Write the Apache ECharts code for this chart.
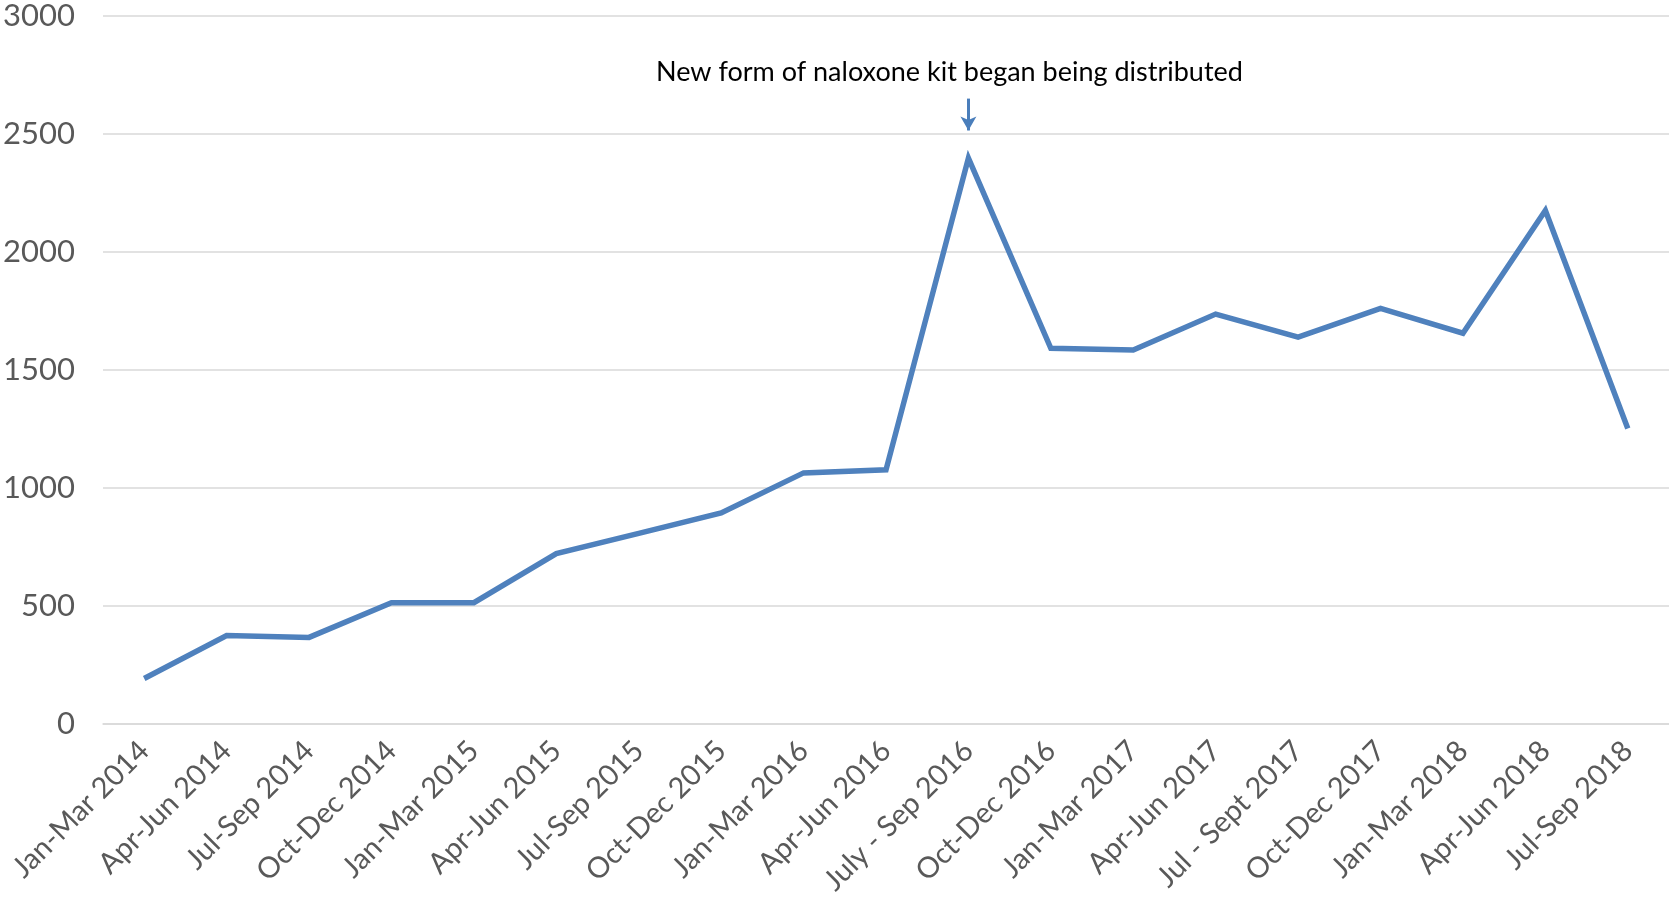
<!DOCTYPE html>
<html>
<head>
<meta charset="utf-8">
<script src="https://cdn.jsdelivr.net/npm/echarts@6/dist/echarts.min.js"></script>
<style>
  html, body { margin: 0; padding: 0; background: #fff; }
  #chart { width: 1669px; height: 910px; }
</style>
</head>
<body>
<div id="chart"></div>
<script>
// quarters on the x axis
const categories = [
  'Jan-Mar 2014', 'Apr-Jun 2014', 'Jul-Sep 2014', 'Oct-Dec 2014',
  'Jan-Mar 2015', 'Apr-Jun 2015', 'Jul-Sep 2015', 'Oct-Dec 2015',
  'Jan-Mar 2016', 'Apr-Jun 2016', 'July - Sep 2016', 'Oct-Dec 2016',
  'Jan-Mar 2017', 'Apr-Jun 2017', 'Jul - Sept 2017', 'Oct-Dec 2017',
  'Jan-Mar 2018', 'Apr-Jun 2018', 'Jul-Sep 2018'
];
// values
const values = [
  193, 375, 367, 514, 514, 722, 808, 894, 1064, 1077,
  2398, 1592, 1585, 1737, 1639, 1761, 1656, 2176, 1252
];
const yTicks = { min: 0, max: 3000, interval: 500 };
const noteText = 'New form of naloxone kit began being distributed';
const noteIndex = 10; // July - Sep 2016

const myChart = echarts.init(document.getElementById('chart'));
const font = 'Lato, "Open Sans", sans-serif';

myChart.setOption({
  animation: false,
  grid: {
    left: 103,
    right: 0,
    top: 16,
    bottom: 186,
    containLabel: false
  },
  xAxis: {
    type: 'category',
    data: categories,
    boundaryGap: true,
    axisLine: { lineStyle: { color: '#d9d9d9', width: 1.5 } },
    axisTick: { show: false },
    axisLabel: {
      rotate: 45,
      interval: 0,
      margin: 22,
      color: '#595959',
      fontFamily: font,
      fontSize: 29
    }
  },
  yAxis: {
    type: 'value',
    min: yTicks.min,
    max: yTicks.max,
    interval: yTicks.interval,
    axisLine: { show: false },
    axisTick: { show: false },
    axisLabel: {
      margin: 28,
      color: '#595959',
      fontFamily: font,
      fontSize: 31,
      formatter: (v) => String(v)
    },
    splitLine: { lineStyle: { color: '#d9d9d9', width: 1.5 } }
  },
  series: [
    {
      type: 'line',
      data: values,
      symbol: 'none',
      smooth: false,
      lineStyle: { color: '#4f81bd', width: 5.5, join: 'miter' },
      itemStyle: { color: '#4f81bd' },
      markLine: {
        silent: true,
        symbol: ['none', 'arrow'],
        symbolSize: [12, 14],
        lineStyle: { color: '#4a7ebb', width: 3, type: 'solid' },
        label: { show: false },
        data: [[
          { coord: [noteIndex, 2650] },
          { coord: [noteIndex, 2515] }
        ]]
      },
      markPoint: {
        silent: true,
        symbol: 'circle',
        symbolSize: 0,
        label: {
          show: true,
          position: 'inside',
          offset: [-19, 0],
          formatter: noteText,
          color: '#000',
          fontFamily: font,
          fontSize: 27
        },
        data: [{ coord: [noteIndex, 2760] }]
      }
    }
  ]
});

window.addEventListener('resize', () => {
  myChart.resize();
});
</script>
</body>
</html>
